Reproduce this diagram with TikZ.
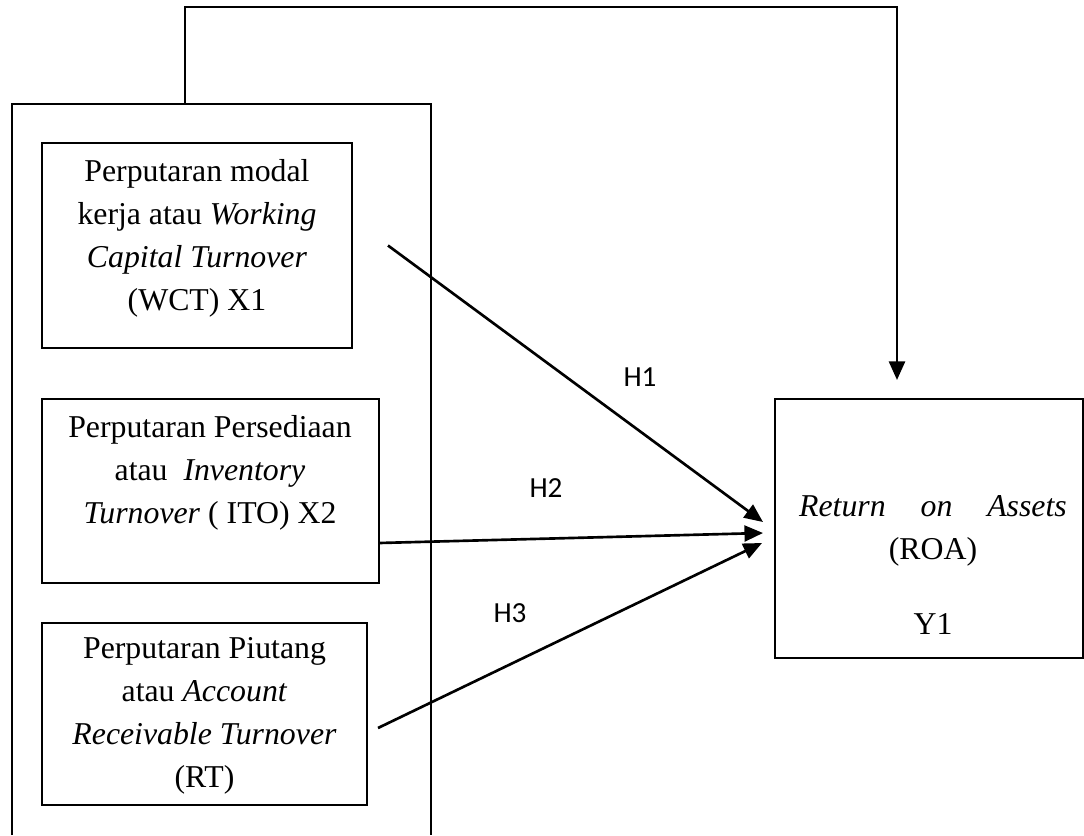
\documentclass[tikz,border=0pt]{standalone}
\usepackage{fontspec}
\setmainfont{Liberation Serif}
\newfontfamily\hfont{Carlito}
\usetikzlibrary{calc,arrows.meta}
\newcommand{\pxu}{0.3774pt}

\begin{document}
\begin{tikzpicture}[x=\pxu,y=-\pxu,
	frame/.style={draw,line width=0.8pt,inner sep=0pt,outer sep=0pt},
	txt/.style={align=center,font=\fontsize{12}{16.2}\selectfont,inner sep=0pt},
	hyp/.style={font=\hfont\fontsize{11}{13}\selectfont,inner sep=0pt},
	conn/.style={line width=1pt,-{Triangle[length=7pt,width=6pt]}}]
	\useasboundingbox (0,0) rectangle (1084,835);
	\draw[frame] (12,835) |- (431,104) -- (431,835);
	\coordinate (gtop) at (185,104);
	\node[frame,minimum width=310*\pxu,minimum height=205*\pxu] (wct) at (197,245.5) {};
	\node[frame,minimum width=337*\pxu,minimum height=184*\pxu] (ito) at (210.5,491) {};
	\node[frame,minimum width=325*\pxu,minimum height=182*\pxu] (rt) at (204.5,714) {};
	\node[frame,minimum width=308*\pxu,minimum height=259*\pxu] (roa) at (929,528.5) {};
	\node[txt] (wcttext) at (197,238) {Perputaran modal\\kerja atau \textit{Working}\\\textit{Capital Turnover}\\(WCT) X1};
	\node[txt] (itotext) at (210,473) {Perputaran Persediaan\\atau~ \textit{Inventory}\\\textit{Turnover} ( ITO) X2};
	\node[txt] (rttext) at (204.5,716) {Perputaran Piutang\\atau \textit{Account}\\\textit{Receivable Turnover}\\(RT)};
	\node[txt] (roatext) at (933,565) {\makebox[101pt][s]{\textit{Return} \textit{on} \textit{Assets}}\\(ROA)\\[12pt]Y1};
	\coordinate (fb) at ($(roa.north)+(-32,-19)$);
	\draw[conn] (gtop) -- ++(0,-97) -| (fb);
	\draw[conn] ($(wct.east)+(36,0)$) -- ($(roa.west)+(-12,-6.5)$);
	\draw[conn] ($(ito.east)+(0,52)$) -- ($(roa.west)+(-12,4.5)$);
	\draw[conn] ($(rt.east)+(11,14)$) -- ($(roa.west)+(-13,14.5)$);
	\node[hyp] (h1) at (640,377) {H1};
	\node[hyp] (h2) at (546,488) {H2};
	\node[hyp] (h3) at (510,613) {H3};
\end{tikzpicture}
\end{document}
